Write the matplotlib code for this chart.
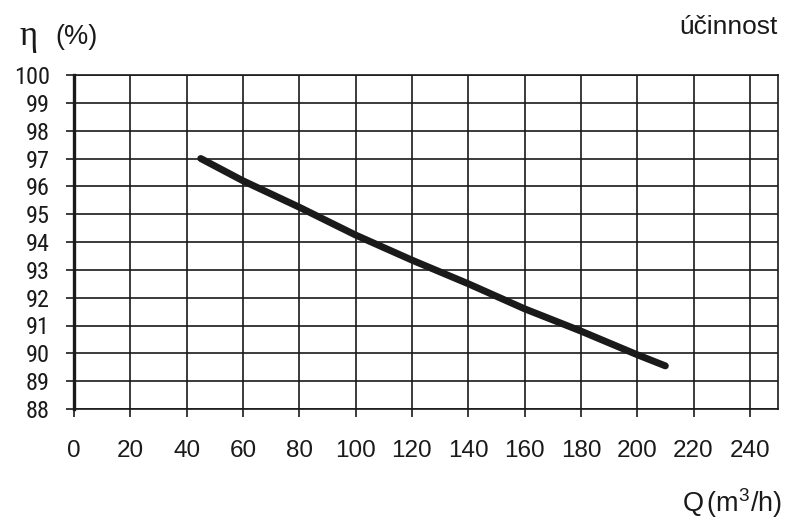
import matplotlib
matplotlib.use("Agg")
import matplotlib.pyplot as plt

# Data
Q = [45, 60, 80, 100, 120, 140, 160, 180, 200, 210]
eta = [97.0, 96.2, 95.25, 94.25, 93.35, 92.5, 91.6, 90.8, 89.95, 89.55]
x_ticks = list(range(0, 241, 20))
y_ticks = list(range(88, 101))

ink = "#1a1a1a"
plt.rcParams["font.family"] = ["Liberation Sans", "DejaVu Sans"]
plt.rcParams["mathtext.fontset"] = "custom"
plt.rcParams["mathtext.rm"] = "Liberation Sans"
plt.rcParams["mathtext.it"] = "Liberation Sans"

fig = plt.figure(figsize=(8, 5.32), dpi=100)
ax = fig.add_axes([74/800, 1-409/532, (778-74)/800, (409-75)/532])

ax.set_xlim(0, 250)
ax.set_ylim(88, 100)
ax.set_xticks(x_ticks)
ax.set_yticks(y_ticks)
ax.set_xticklabels([str(v) for v in x_ticks])
ax.set_yticklabels([str(v) for v in y_ticks],
                   fontdict={"family": ["Roboto Condensed", "Liberation Sans"]})
ax.grid(True, color=ink, linewidth=1.2)
ax.set_axisbelow(True)

for s in ["top", "right", "bottom"]:
    ax.spines[s].set_linewidth(1.2)
    ax.spines[s].set_color(ink)
ax.spines["left"].set_linewidth(2.4)
ax.spines["left"].set_color(ink)

ax.tick_params(axis="y", direction="out", length=5.5, width=1.2, color=ink,
               labelsize=17.5, pad=12, labelcolor=ink)
ax.tick_params(axis="x", direction="out", length=6, width=1.2, color=ink,
               labelsize=17.5, pad=16.5, labelcolor=ink)

ax.plot(Q, eta, color=ink, linewidth=5, solid_capstyle="round", zorder=5)

fig.text(19/800, 1-45/532, "η", fontsize=25, family=["Liberation Serif", "DejaVu Serif"],
         color=ink, ha="left", va="baseline")
fig.text(55/800, 1-44/532, "(%)", fontsize=19.5, color=ink, ha="left", va="baseline")
fig.text(778/800, 1-34/532, "účinnost", fontsize=19, color=ink, ha="right", va="baseline")
fig.text(782/800, 1-512/532, "Q$\\,$(m$^{3}$/h)", fontsize=19.5, color=ink, ha="right", va="baseline")

fig.savefig("out.png", dpi=100)
